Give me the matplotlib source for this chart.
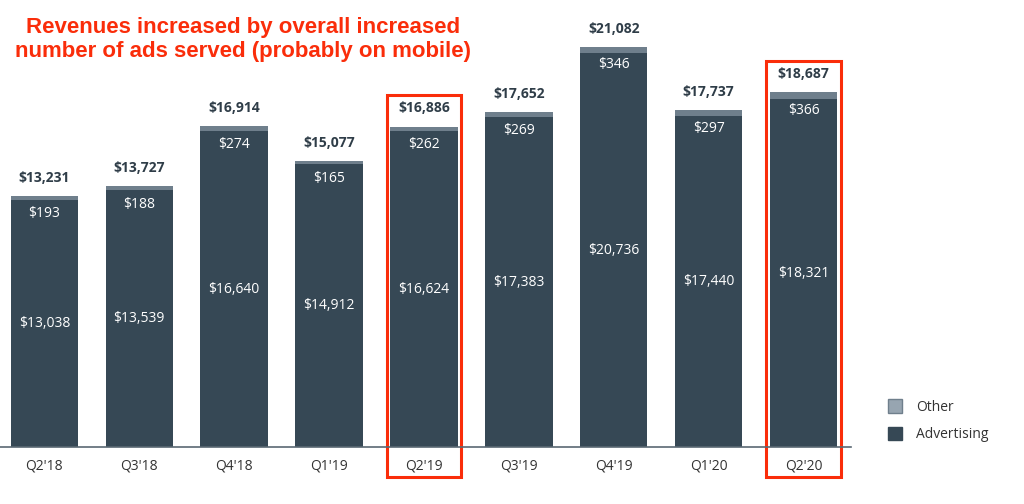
import numpy as np
import matplotlib.pyplot as plt
import matplotlib.patches as mpatches

quarters = ["Q2'18", "Q3'18", "Q4'18", "Q1'19", "Q2'19", "Q3'19", "Q4'19", "Q1'20", "Q2'20"]
advertising = [13038, 13539, 16640, 14912, 16624, 17383, 20736, 17440, 18321]
other = [193, 188, 274, 165, 262, 269, 346, 297, 366]
totals = [13231, 13727, 16914, 15077, 16886, 17652, 21082, 17737, 18687]
highlighted = ["Q2'19", "Q2'20"]

title = "Revenues increased by overall increased\nnumber of ads served (probably on mobile)"

ADV_COLOR = "#364855"
OTHER_COLOR = "#6f7f8c"
RED = "#fa2d0a"
TEXT = "#2f3d48"
LABEL_FONT = ["Open Sans", "DejaVu Sans"]

plt.rcParams["font.family"] = ["Liberation Sans", "DejaVu Sans"]

fig = plt.figure(figsize=(10.24, 5.04), dpi=100)
ax = fig.add_axes([-0.003, 0.113, 0.834, 0.794])

x = np.arange(len(quarters))
width = 0.71
ax.bar(x, advertising, width, color=ADV_COLOR, label="Advertising")
ax.bar(x, other, width, bottom=advertising, color=OTHER_COLOR, label="Other")

for i in range(len(quarters)):
    ax.annotate(f"${totals[i]:,}", (x[i], totals[i]), xytext=(0, 13), textcoords="offset points",
                ha="center", va="center", fontsize=10, fontweight="bold", color=TEXT,
                family=LABEL_FONT)
    ax.annotate(f"${other[i]:,}", (x[i], totals[i]), xytext=(0, -13), textcoords="offset points",
                ha="center", va="center", fontsize=10, color="white", family=LABEL_FONT)
    ax.text(x[i], advertising[i] / 2, f"${advertising[i]:,}", ha="center", va="center",
            fontsize=10, color="white", family=LABEL_FONT)

# red boxes round the highlighted quarters
for q in highlighted:
    i = quarters.index(q)
    rect = mpatches.Rectangle((x[i] - 0.39, -1600), 0.78, totals[i] + 1650 + 1600,
                              fill=False, edgecolor=RED, linewidth=2.2, clip_on=False)
    ax.add_patch(rect)

ax.set_xlim(-0.5, len(quarters) - 0.5)
ax.set_ylim(0, max(totals))
ax.set_xticks(x)
ax.set_xticklabels(quarters, fontsize=10, color="#333333", family=LABEL_FONT)
ax.tick_params(axis="x", length=0, pad=8)
ax.set_yticks([])
for s in ["top", "right", "left"]:
    ax.spines[s].set_visible(False)
ax.spines["bottom"].set_color("#5a6873")
ax.spines["bottom"].set_linewidth(1.2)

fig.text(0.237, 0.922, title, ha="center", va="center", fontsize=16, fontweight="bold",
         color=RED, linespacing=1.15)

handles = [mpatches.Patch(facecolor="#97a5b1", edgecolor="#6f7f8c", label="Other"),
           mpatches.Patch(facecolor=ADV_COLOR, edgecolor=ADV_COLOR, label="Advertising")]
fig.legend(handles=handles, loc="center left", bbox_to_anchor=(0.855, 0.165), frameon=False,
           fontsize=10, labelcolor="#333333", handlelength=1.0, handleheight=1.1,
           labelspacing=0.9, handletextpad=1.0, prop={"family": LABEL_FONT, "size": 10})

fig.savefig("out.png", dpi=100)
